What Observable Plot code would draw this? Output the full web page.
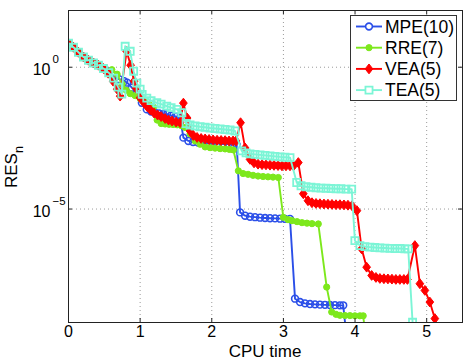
<!DOCTYPE html>
<html><head><meta charset="utf-8">
<script src="https://cdn.jsdelivr.net/npm/d3@7"></script>
<script src="https://cdn.jsdelivr.net/npm/@observablehq/plot@0.6"></script>
<style>
body{margin:0;background:#fff;font-family:"Liberation Sans",Arial,sans-serif;}
#wrap{position:relative;width:469px;height:364px;overflow:hidden;}
#legend{position:absolute;left:350px;top:15px;width:107px;height:86px;border:1px solid #333;background:#fff;box-sizing:border-box;}
</style></head><body><div id="wrap"><div id="legend"></div></div>
<script>
// ---- data ----
const commonTime   = [0, 0.070, 0.139, 0.209, 0.279, 0.349, 0.418, 0.488];
const commonLogRes = [0.843, 0.703, 0.527, 0.362, 0.246, 0.151, 0.070, -0.046];

const mpeTime = [...commonTime, 0.554, 0.630, 0.707, 0.777, 0.819, 0.884, 0.954, 1.024, 1.093, 1.153, 1.209, 1.265, 1.321, 1.377, 1.432, 1.495, 1.558, 1.604, 1.674, 1.739, 1.809, 1.879, 1.949, 2.018, 2.088, 2.158, 2.227, 2.290, 2.349, 2.395, 2.465, 2.534, 2.604, 2.674, 2.744, 2.813, 2.883, 2.953, 3.022, 3.092, 3.162, 3.232, 3.301, 3.371, 3.441, 3.510, 3.580, 3.650, 3.720, 3.789, 3.835, 3.873];
const mpeLogRes = [...commonLogRes, -0.158, -0.281, -0.422, -0.492, -0.544, -0.720, -0.903, -1.254, -1.486, -1.563, -1.605, -1.626, -1.651, -1.661, -1.704, -1.739, -1.781, -2.483, -2.599, -2.634, -2.659, -2.670, -2.680, -2.687, -2.694, -2.705, -2.712, -2.715, -2.740, -5.118, -5.234, -5.269, -5.286, -5.304, -5.315, -5.322, -5.329, -5.339, -5.346, -5.350, -8.160, -8.279, -8.325, -8.349, -8.360, -8.370, -8.377, -8.384, -8.388, -8.395, -8.395, -9.3];

const rreTime = [...commonTime, 0.605, 0.679, 0.749, 0.805, 0.861, 0.930, 1.000, 1.063, 1.133, 1.188, 1.237, 1.293, 1.349, 1.404, 1.460, 1.516, 1.572, 1.628, 1.697, 1.767, 1.837, 1.907, 1.976, 2.046, 2.116, 2.186, 2.248, 2.301, 2.371, 2.437, 2.507, 2.576, 2.646, 2.716, 2.785, 2.855, 2.929, 2.999, 3.064, 3.120, 3.190, 3.259, 3.329, 3.399, 3.487, 3.604, 3.674, 3.734, 3.789, 3.859, 3.929, 3.998, 4.068, 4.114, 4.138];
const rreLogRes = [...commonLogRes, -0.088, -0.246, -0.597, -0.808, -0.931, -1.001, -1.106, -1.212, -1.335, -1.405, -1.862, -1.985, -2.002, -2.013, -2.020, -2.030, -2.055, -2.125, -2.353, -2.599, -2.715, -2.810, -2.835, -2.852, -2.870, -2.880, -2.898, -2.915, -3.653, -3.748, -3.776, -3.811, -3.836, -3.853, -3.864, -3.874, -3.888, -5.293, -5.374, -5.409, -5.444, -5.480, -5.497, -5.515, -5.525, -7.752, -8.630, -8.711, -8.746, -8.753, -8.757, -8.764, -8.764, -8.764, -9.3];

const veaTime = [...commonTime, 0.554, 0.623, 0.679, 0.721, 0.812, 0.867, 0.916, 0.944, 1.000, 1.056, 1.098, 1.146, 1.195, 1.244, 1.293, 1.349, 1.397, 1.446, 1.502, 1.558, 1.604, 1.656, 1.697, 1.743, 1.795, 1.851, 1.907, 1.962, 2.018, 2.074, 2.130, 2.186, 2.241, 2.297, 2.339, 2.402, 2.465, 2.534, 2.590, 2.646, 2.702, 2.757, 2.813, 2.869, 2.925, 2.980, 3.036, 3.092, 3.141, 3.208, 3.278, 3.343, 3.399, 3.455, 3.510, 3.566, 3.622, 3.678, 3.734, 3.789, 3.845, 3.901, 3.957, 4.026, 4.092, 4.162, 4.232, 4.292, 4.347, 4.403, 4.459, 4.515, 4.570, 4.626, 4.682, 4.731, 4.835, 4.905, 4.975, 5.044, 5.114];
const veaLogRes = [...commonLogRes, -0.211, -0.492, -0.773, -1.019, 0.562, 0.070, -0.492, -0.738, -1.078, -1.265, -1.387, -1.510, -1.616, -1.686, -1.739, -1.809, -1.862, -1.897, -1.932, -1.956, -1.265, -1.791, -2.248, -2.406, -2.476, -2.511, -2.529, -2.547, -2.564, -2.575, -2.582, -2.589, -2.599, -2.599, -2.599, -1.956, -2.845, -3.249, -3.372, -3.418, -3.435, -3.442, -3.453, -3.460, -3.467, -3.477, -3.477, -3.477, -3.477, -3.361, -4.461, -4.707, -4.777, -4.802, -4.812, -4.823, -4.830, -4.837, -4.847, -4.847, -4.854, -4.865, -4.882, -5.058, -6.404, -7.050, -7.341, -7.412, -7.447, -7.457, -7.464, -7.471, -7.482, -7.482, -7.482, -7.482, -6.288, -7.633, -7.868, -8.279, -8.862];

const teaTime = [...commonTime, 0.561, 0.630, 0.693, 0.745, 0.791, 0.861, 0.909, 0.954, 1.000, 1.028, 1.093, 1.153, 1.233, 1.293, 1.372, 1.432, 1.512, 1.582, 1.642, 1.697, 1.767, 1.837, 1.907, 1.976, 2.046, 2.116, 2.186, 2.255, 2.325, 2.418, 2.479, 2.534, 2.604, 2.674, 2.744, 2.813, 2.883, 2.953, 3.022, 3.092, 3.186, 3.246, 3.315, 3.385, 3.455, 3.524, 3.594, 3.664, 3.734, 3.803, 3.873, 3.953, 3.998, 4.068, 4.138, 4.208, 4.278, 4.347, 4.417, 4.487, 4.557, 4.626, 4.696, 4.742, 4.803];
const teaLogRes = [...commonLogRes, -0.193, -0.386, -0.703, -0.948, 0.738, 0.562, -0.141, -0.562, -0.773, -0.959, -1.089, -1.177, -1.254, -1.300, -1.370, -1.423, -1.486, -1.605, -1.985, -2.037, -2.072, -2.097, -2.118, -2.143, -2.160, -2.178, -2.195, -2.213, -2.248, -2.950, -3.021, -3.056, -3.073, -3.091, -3.108, -3.126, -3.143, -3.161, -3.172, -3.186, -4.064, -4.180, -4.215, -4.233, -4.250, -4.261, -4.268, -4.278, -4.285, -4.285, -4.296, -4.296, -6.112, -6.288, -6.323, -6.341, -6.358, -6.369, -6.376, -6.386, -6.393, -6.393, -6.404, -6.404, -8.992];

const seriesNames = ["MPE(10)", "RRE(7)", "VEA(5)", "TEA(5)"];
const xTicks = [0, 1, 2, 3, 4, 5];
const yTicks = [1e-5, 1e0];
const yTickExponents = ["\u22125", "0"];

// ---- styles ----
const diamond = {
  draw(ctx, size) {
    const h = Math.sqrt(size) * 0.66, w = h * 0.78;
    ctx.moveTo(0, -h); ctx.lineTo(w, 0); ctx.lineTo(0, h); ctx.lineTo(-w, 0); ctx.closePath();
  }
};
const styles = [
  {color: "#2b4fe8", symbol: "circle", d3sym: d3.symbolCircle, r: 3.4, fill: "none", sw: 1.6},
  {color: "#7de81c", symbol: "circle", d3sym: d3.symbolCircle, r: 3.1, fill: "#7de81c", sw: 1},
  {color: "#ff0000", symbol: diamond, d3sym: diamond, r: 4.2, fill: "#ff0000", sw: 1},
  {color: "#7cf5d6", symbol: "square", d3sym: d3.symbolSquare, r: 4.0, fill: "none", sw: 1.8}
];

const seriesArrays = [[mpeTime, mpeLogRes], [rreTime, rreLogRes], [veaTime, veaLogRes], [teaTime, teaLogRes]];
const seriesRows = seriesArrays.map(([t, l], k) =>
  t.map((time, i) => ({series: seriesNames[k], time, res: Math.pow(10, l[i])})));

const marks = [
  Plot.gridX(xTicks.slice(1), {stroke: "#9a9a9a", strokeOpacity: 1, strokeDasharray: "1,3"}),
  Plot.gridY(yTicks, {stroke: "#9a9a9a", strokeOpacity: 1, strokeDasharray: "1,3"})
];
seriesRows.forEach((rows, k) => {
  const s = styles[k];
  marks.push(Plot.line(rows, {x: "time", y: "res", stroke: s.color, strokeWidth: 1.9, clip: true}));
  marks.push(Plot.dot(rows, {x: "time", y: "res", symbol: s.symbol, r: s.r, stroke: s.color, fill: s.fill, strokeWidth: s.sw, clip: true}));
});
marks.push(
  Plot.tickX(xTicks, {x: d => d, stroke: "#222", insetTop: 308}),
  Plot.tickX(xTicks, {x: d => d, stroke: "#222", insetBottom: 308}),
  Plot.tickY(yTicks, {y: d => d, stroke: "#222", insetRight: 390}),
  Plot.tickY(yTicks, {y: d => d, stroke: "#222", insetLeft: 390}),
  Plot.frame({stroke: "#222"}),
  Plot.text(xTicks, {x: d => d, text: d => String(d), frameAnchor: "bottom", dy: 14, fontSize: 16, fill: "#000"}),
  Plot.text(yTicks, {y: d => d, text: () => "10", frameAnchor: "left", dx: -18, dy: 3, textAnchor: "end", fontSize: 16, fill: "#000"}),
  Plot.text(yTicks, {y: d => d, text: (d, i) => yTickExponents[i], frameAnchor: "left", dx: -16, dy: -8, textAnchor: "start", fontSize: 11.5, fill: "#000"})
);

const chart = Plot.plot({
  width: 469, height: 364,
  marginLeft: 68, marginRight: 7, marginTop: 10, marginBottom: 42,
  x: {domain: [0, 5.5], axis: null},
  y: {type: "log", domain: [1e-9, 1e2], axis: null},
  style: {fontFamily: "'Liberation Sans', Arial, sans-serif", fontSize: "16px", color: "#000", background: "#fff"},
  marks
});
const wrap = document.getElementById("wrap");
wrap.insertBefore(chart, wrap.firstChild);

const svg = d3.select(chart);
// x label
svg.append("text").attr("x", 265).attr("y", 357).attr("text-anchor", "middle")
  .attr("font-size", 17).attr("fill", "#000").text("CPU time");
// y label with subscript
const yl = svg.append("text").attr("transform", "translate(17,188) rotate(-90)")
  .attr("text-anchor", "start").attr("font-size", 17).attr("fill", "#000");
yl.append("tspan").text("RES");
yl.append("tspan").attr("dy", 6).attr("font-size", 12.5).text("n");

// legend
const lg = d3.select("#legend").append("svg").attr("width", 105).attr("height", 84)
  .style("font-family", "'Liberation Sans', Arial, sans-serif");
seriesNames.forEach((name, k) => {
  const s = styles[k];
  const cy = 10.5 + k * 21.2;
  lg.append("line").attr("x1", 5).attr("x2", 31).attr("y1", cy).attr("y2", cy)
    .attr("stroke", s.color).attr("stroke-width", 1.9);
  lg.append("path").attr("transform", `translate(18,${cy})`)
    .attr("d", d3.symbol().type(s.d3sym).size(Math.PI * s.r * s.r)())
    .attr("stroke", s.color).attr("fill", s.fill === "none" ? "#fff" : s.fill).attr("stroke-width", s.sw);
  lg.append("text").attr("x", 34).attr("y", cy).attr("dy", "0.36em")
    .attr("font-size", 17.5).attr("fill", "#000").text(name);
});
</script></body></html>
